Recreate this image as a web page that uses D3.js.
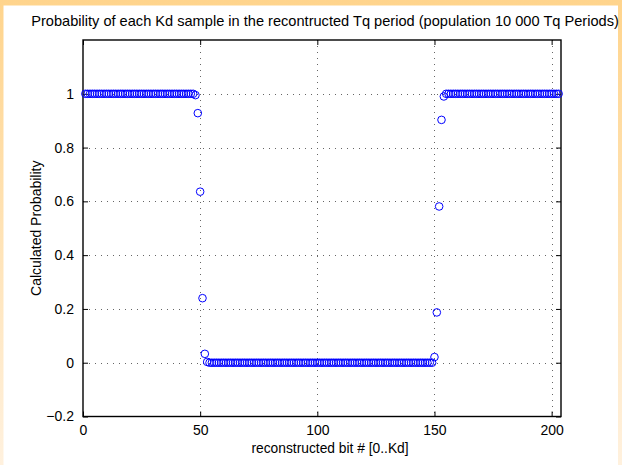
<!DOCTYPE html>
<html>
<head>
<meta charset="utf-8">
<script src="https://cdn.jsdelivr.net/npm/d3@7"></script>
<style>
  html, body { margin: 0; padding: 0; background: #ffffff; }
  svg { display: block; font-family: "Liberation Sans", Arial, Helvetica, sans-serif; }
</style>
</head>
<body>
<svg id="chart" width="622" height="465"></svg>
<script>
// ---- data ----
const titleText = "Probability of each Kd sample in the recontructed Tq period (population 10 000 Tq Periods)";
const xLabelText = "reconstructed bit # [0..Kd]";
const yLabelText = "Calculated Probability";
const xDomain = [0, 204];
const yDomain = [-0.2, 1.2];
const xTicks = [0, 50, 100, 150, 200];
const yTicks = [-0.2, 0, 0.2, 0.4, 0.6, 0.8, 1];
const firstBit = 1;
// probability of bit #1 .. #203
const probability = [
  1,1,1,1,1,1,1,1,1,1, 1,1,1,1,1,1,1,1,1,1, 1,1,1,1,1,1,1,1,1,1,
  1,1,1,1,1,1,1,1,1,1, 1,1,1,1,1,1,1,
  0.995, 0.928, 0.636, 0.24, 0.033, 0.003,
  0,0,0,0,0,0,0,0,0,0, 0,0,0,0,0,0,0,0,0,0, 0,0,0,0,0,0,0,0,0,0,
  0,0,0,0,0,0,0,0,0,0, 0,0,0,0,0,0,0,0,0,0, 0,0,0,0,0,0,0,0,0,0,
  0,0,0,0,0,0,0,0,0,0, 0,0,0,0,0,0,0,0,0,0, 0,0,0,0,0,0,0,0,0,0,
  0,0,0,0,0,0,
  0.021, 0.187, 0.581, 0.903, 0.99,
  1,1,1,1,1,1,1,1,1,1, 1,1,1,1,1,1,1,1,1,1, 1,1,1,1,1,1,1,1,1,1,
  1,1,1,1,1,1,1,1,1,1, 1,1,1,1,1,1,1,1,1
];

// ---- layout ----
const W = 622, H = 465;
const plot = { left: 83, right: 561, top: 40, bottom: 416.5 };

const svg = d3.select("#chart");

// frame gradient
const defs = svg.append("defs");
const grad = defs.append("linearGradient").attr("id", "frameGrad")
  .attr("x1", 0).attr("y1", 0).attr("x2", 0).attr("y2", 1);
grad.append("stop").attr("offset", "0%").attr("stop-color", "#ffd48c");
grad.append("stop").attr("offset", "100%").attr("stop-color", "#fff1de");
svg.append("rect").attr("x", 0).attr("y", 0).attr("width", W).attr("height", H)
  .attr("fill", "url(#frameGrad)");
svg.append("rect").attr("x", 3.5).attr("y", 5.5).attr("width", W - 3.5 - 4).attr("height", H - 5.5)
  .attr("fill", "#ffffff");

const x = d3.scaleLinear().domain(xDomain).range([plot.left, plot.right]);
const y = d3.scaleLinear().domain(yDomain).range([plot.bottom, plot.top]);

// grid
const grid = svg.append("g").attr("stroke", "#666").attr("stroke-width", 1)
  .attr("stroke-dasharray", "1,5");
grid.selectAll("line.gx").data(xTicks.filter(d => d > xDomain[0] && d < xDomain[1]))
  .join("line").attr("class", "gx")
  .attr("x1", d => Math.round(x(d)) + 0.5).attr("x2", d => Math.round(x(d)) + 0.5)
  .attr("y1", plot.top).attr("y2", plot.bottom);
grid.selectAll("line.gy").data(yTicks.filter(d => d > yDomain[0] && d < yDomain[1]))
  .join("line").attr("class", "gy")
  .attr("y1", d => Math.round(y(d)) + 0.5).attr("y2", d => Math.round(y(d)) + 0.5)
  .attr("x1", plot.left).attr("x2", plot.right);

// axes (MATLAB style: inward ticks on all four sides)
const fmt = d3.format("");
const axB = d3.axisBottom(x).tickValues(xTicks).tickSize(-5).tickPadding(9).tickFormat(fmt);
const axT = d3.axisTop(x).tickValues(xTicks).tickSize(-5).tickFormat("");
const axL = d3.axisLeft(y).tickValues(yTicks).tickSize(-5).tickPadding(9).tickFormat(d3.format(""));
const axR = d3.axisRight(y).tickValues(yTicks).tickSize(-5).tickFormat("");

function styleAxis(g) {
  g.select(".domain").remove();
  g.selectAll(".tick line").attr("stroke", "#000").attr("stroke-width", 1);
  g.selectAll(".tick text").attr("fill", "#000").attr("font-size", 14)
    .attr("font-family", "'Liberation Sans', Arial, sans-serif");
}
svg.append("g").attr("transform", `translate(0,${plot.bottom})`).call(axB).call(styleAxis);
svg.append("g").attr("transform", `translate(0,${plot.top})`).call(axT).call(styleAxis);
svg.append("g").attr("transform", `translate(${plot.left},0)`).call(axL).call(styleAxis);
svg.append("g").attr("transform", `translate(${plot.right},0)`).call(axR).call(styleAxis);

// box
svg.append("rect").attr("x", plot.left).attr("y", plot.top)
  .attr("width", plot.right - plot.left).attr("height", plot.bottom - plot.top)
  .attr("fill", "none").attr("stroke", "#000").attr("stroke-width", 1.4);

// data points
svg.append("g").selectAll("circle").data(probability).join("circle")
  .attr("cx", (d, i) => x(firstBit + i))
  .attr("cy", d => y(d))
  .attr("r", 3.8)
  .attr("fill", "none")
  .attr("stroke", "#0000ff")
  .attr("stroke-width", 1);

// texts
svg.append("text").attr("x", 325).attr("y", 26).attr("text-anchor", "middle")
  .attr("font-size", 14.6).attr("fill", "#000").text(titleText);
svg.append("text").attr("x", (plot.left + plot.right) / 2 + 8).attr("y", 453).attr("text-anchor", "middle")
  .attr("font-size", 13.8).attr("fill", "#000").text(xLabelText);
svg.append("text").attr("transform", `translate(41,${(plot.top + plot.bottom) / 2}) rotate(-90)`)
  .attr("text-anchor", "middle").attr("font-size", 14).attr("fill", "#000").text(yLabelText);
</script>
</body>
</html>
